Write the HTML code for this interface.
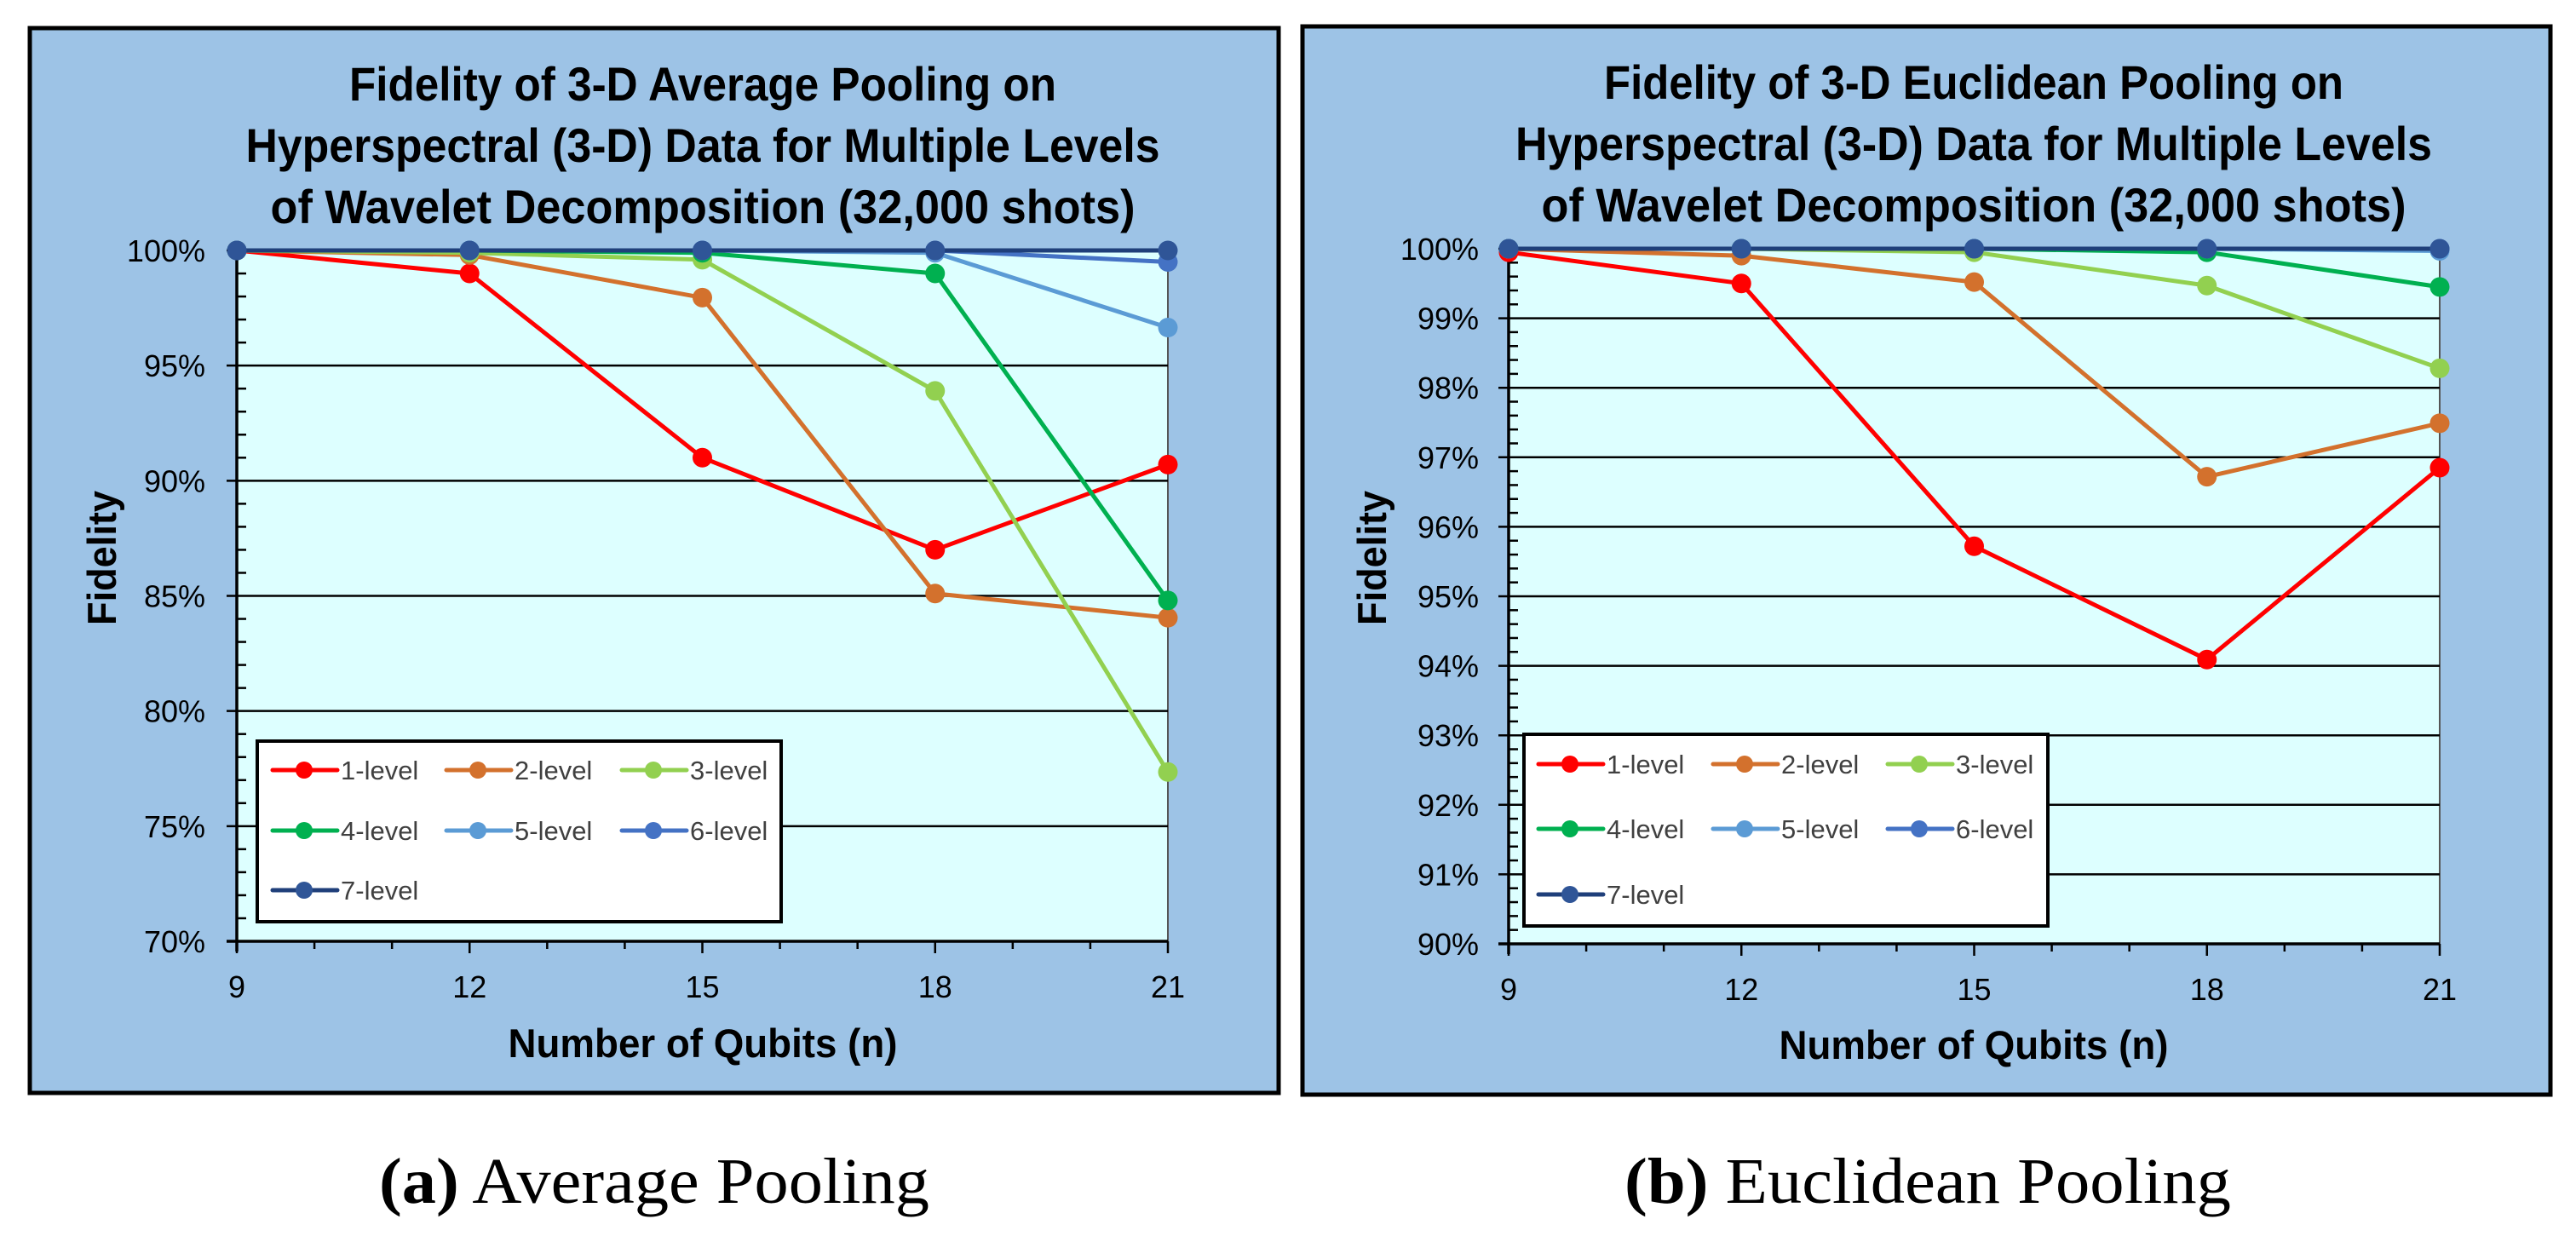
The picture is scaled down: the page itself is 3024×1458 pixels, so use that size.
<!DOCTYPE html>
<html><head><meta charset="utf-8">
<style>
html,body{margin:0;padding:0;background:#fff;}
svg{display:block;}
</style></head>
<body>
<svg id="fig" width="3024" height="1458" viewBox="0 0 3024 1458" xmlns="http://www.w3.org/2000/svg"></svg>
<script>
// ---- data ----
const xCategories = [9, 12, 15, 18, 21];
const seriesNames = ["1-level","2-level","3-level","4-level","5-level","6-level","7-level"];
const seriesColors = ["#ff0000","#d3712d","#92d050","#00b050","#5b9bd5","#4472c4","#1f3f7a"];
const markerColors = ["#ff0000","#d3712d","#92d050","#00b050","#5b9bd5","#4472c4","#2f5597"];
// Average pooling (%)
const avg1 = [100, 99.0, 91.0, 87.0, 90.7];
const avg2 = [100, 99.8, 97.95, 85.1, 84.05];
const avg3 = [100, 99.9, 99.6, 93.9, 77.35];
const avg4 = [100, 100, 99.9, 99.0, 84.8];
const avg5 = [100, 100, 100, 99.9, 96.65];
const avg6 = [100, 100, 100, 100, 99.5];
const avg7 = [100, 100, 100, 100, 100];
// Euclidean pooling (%)
const euc1 = [99.95, 99.5, 95.72, 94.09, 96.85];
const euc2 = [100, 99.9, 99.52, 96.72, 97.49];
const euc3 = [100, 100, 99.95, 99.47, 98.28];
const euc4 = [100, 100, 100, 99.95, 99.45];
const euc5 = [100, 100, 100, 100, 99.97];
const euc6 = [100, 100, 100, 100, 100];
const euc7 = [100, 100, 100, 100, 100];
const avgTicks = [70, 75, 80, 85, 90, 95, 100];
const eucTicks = [90, 91, 92, 93, 94, 95, 96, 97, 98, 99, 100];
const avgTitle = ["Fidelity of 3-D Average Pooling on","Hyperspectral (3-D) Data for Multiple Levels","of Wavelet Decomposition (32,000 shots)"];
const eucTitle = ["Fidelity of 3-D Euclidean Pooling on","Hyperspectral (3-D) Data for Multiple Levels","of Wavelet Decomposition (32,000 shots)"];

const NS = "http://www.w3.org/2000/svg";
const svg = document.getElementById("fig");
function mk(tag, attrs, parent){
  const e = document.createElementNS(NS, tag);
  for (const k in attrs) e.setAttribute(k, attrs[k]);
  (parent||svg).appendChild(e);
  return e;
}

function drawChart(cfg){
  const g = mk("g", {});
  
  
  const bg = mk("rect", {x:cfg.box[0], y:cfg.box[1], width:cfg.box[2]-cfg.box[0], height:cfg.box[3]-cfg.box[1], fill:"#9dc3e6", stroke:"#000", "stroke-width":5}, g);
  
  
  const [L,T,R,B] = cfg.plot;
  const ymin = cfg.ticks[0], ymax = cfg.ticks[cfg.ticks.length-1];
  const xs = v => L + (v - xCategories[0])/(xCategories[xCategories.length-1]-xCategories[0])*(R-L);
  const ys = v => B - (v - ymin)/(ymax-ymin)*(B-T);
  const pa = mk("rect", {x:L, y:T, width:R-L, height:B-T, fill:"#ddffff", stroke:"#555", "stroke-width":2}, g);
  
  
  cfg.ticks.forEach(t => {
    const y = ys(t);
    const gl = mk("line", {x1:L-12, x2:R, y1:y, y2:y, stroke:"#000", "stroke-width":2.5}, g);
    
    
    const tl = mk("text", {x:cfg.ylabX, y:y+13, "text-anchor":"end", "font-family":"Liberation Sans, sans-serif", "font-size":36, fill:"#000"}, g);
    tl.textContent = t + "%";
    
    
  });
  for (let i=0;i<cfg.ticks.length-1;i++){
    for (let k=1;k<5;k++){
      const v = cfg.ticks[i] + (cfg.ticks[i+1]-cfg.ticks[i])*k/5;
      const mt = mk("line", {x1:L, x2:L+11, y1:ys(v), y2:ys(v), stroke:"#000", "stroke-width":2.5}, g);
      
      
    }
  }
  const ya = mk("line", {x1:L, x2:L, y1:T, y2:B+12, stroke:"#000", "stroke-width":3.5}, g);
  
  
  const xa = mk("line", {x1:L-12, x2:R, y1:B, y2:B, stroke:"#000", "stroke-width":3.5}, g);
  
  
  for (let v=xCategories[0]; v<=xCategories[xCategories.length-1]; v++){
    const major = xCategories.includes(v);
    const xt = mk("line", {x1:xs(v), x2:xs(v), y1:B, y2:B+(major?14:9), stroke:"#000", "stroke-width":2.5}, g);
    
    
  }
  xCategories.forEach(c => {
    const tl = mk("text", {x:xs(c), y:B+66, "text-anchor":"middle", "font-family":"Liberation Sans, sans-serif", "font-size":36, fill:"#000"}, g);
    tl.textContent = c;
    
    
  });
  cfg.series.forEach((vals, si) => {
    const sg = mk("g", {}, g);
    
    
    const pts = vals.map((v,i) => xs(xCategories[i]) + "," + ys(v)).join(" ");
    const pl = mk("polyline", {points:pts, fill:"none", stroke:seriesColors[si], "stroke-width":5, "stroke-linejoin":"round"}, sg);
    
    
    vals.forEach((v,i) => {
      const c = mk("circle", {cx:xs(xCategories[i]), cy:ys(v), r:11.5, fill:markerColors[si]}, sg);
      
      
    });
  });
  cfg.title.forEach((line, i) => {
    const tt = mk("text", {x:cfg.titleX, y:cfg.titleY[i], "text-anchor":"middle", "font-family":"Liberation Sans, sans-serif", "font-weight":"bold", "font-size":56, fill:"#000", textLength:cfg.titleW[i], lengthAdjust:"spacingAndGlyphs"}, g);
    tt.textContent = line;
    
    
  });
  const xt = mk("text", {x:cfg.xTitle[0], y:cfg.xTitle[1], "text-anchor":"middle", "font-family":"Liberation Sans, sans-serif", "font-weight":"bold", "font-size":47, fill:"#000", textLength:457, lengthAdjust:"spacingAndGlyphs"}, g);
  xt.textContent = "Number of Qubits (n)";
  
  
  const yt = mk("text", {x:0, y:0, transform:`translate(${cfg.yTitle[0]},${cfg.yTitle[1]}) rotate(-90)`, "text-anchor":"middle", "font-family":"Liberation Sans, sans-serif", "font-weight":"bold", "font-size":47, fill:"#000", textLength:158, lengthAdjust:"spacingAndGlyphs"}, g);
  yt.textContent = "Fidelity";
  
  
  const lg = mk("g", {}, g);
  
  
  const [lx0, ly0, lx1, ly1] = cfg.legend;
  mk("rect", {x:lx0, y:ly0, width:lx1-lx0, height:ly1-ly0, fill:"#fff", stroke:"#000", "stroke-width":4}, lg);
  seriesNames.forEach((n, i) => {
    const col = i % 3, row = Math.floor(i/3);
    const x0 = cfg.legCols[col], y0 = cfg.legRows[row];
    const e = mk("g", {}, lg);
    
    
    mk("line", {x1:x0, x2:x0+76, y1:y0, y2:y0, stroke:seriesColors[i], "stroke-width":5, "stroke-linecap":"round"}, e);
    mk("circle", {cx:x0+37, cy:y0, r:10, fill:markerColors[i]}, e);
    const t = mk("text", {x:x0+80, y:y0+11, "font-family":"Liberation Sans, sans-serif", "font-size":31, fill:"#404040"}, e);
    t.textContent = n;
  });
}

drawChart({
  name:"average-pooling-chart",
  box:[35,33,1501,1283],
  plot:[278,294,1371,1105],
  ticks:avgTicks,
  series:[avg1,avg2,avg3,avg4,avg5,avg6,avg7],
  ylabX:241,
  title:avgTitle, titleX:825, titleY:[118,190,262], titleW:[830,1073,1015],
  xTitle:[825,1241], yTitle:[136,655],
  legend:[302,870,917,1082],
  legCols:[320,524,730], legRows:[904,975,1045]
});
drawChart({
  name:"euclidean-pooling-chart",
  box:[1529,31,2994,1285],
  plot:[1771,292,2864,1108],
  ticks:eucTicks,
  series:[euc1,euc2,euc3,euc4,euc5,euc6,euc7],
  ylabX:1736,
  title:eucTitle, titleX:2317, titleY:[116,188,260], titleW:[868,1076,1015],
  xTitle:[2317,1243], yTitle:[1627,655],
  legend:[1789,862,2404,1087],
  legCols:[1806,2011,2216], legRows:[897,973,1050]
});

const capA = mk("text", {x:768, y:1412, "text-anchor":"middle", "font-family":"Liberation Serif, serif", "font-size":76, fill:"#000", textLength:646, lengthAdjust:"spacingAndGlyphs"});


capA.innerHTML = '<tspan font-weight="bold">(a)</tspan> Average Pooling';
const capB = mk("text", {x:2263, y:1412, "text-anchor":"middle", "font-family":"Liberation Serif, serif", "font-size":76, fill:"#000", textLength:712, lengthAdjust:"spacingAndGlyphs"});


capB.innerHTML = '<tspan font-weight="bold">(b)</tspan> Euclidean Pooling';
</script>
</body></html>
